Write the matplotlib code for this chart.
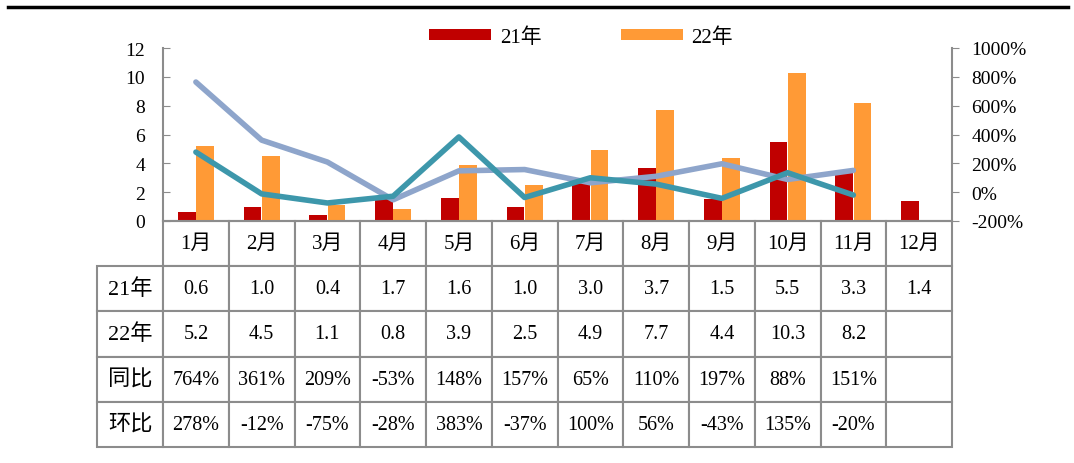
import matplotlib
matplotlib.use('Agg')
import matplotlib.pyplot as plt
from matplotlib.patches import Patch
from matplotlib.lines import Line2D
from matplotlib.ticker import FuncFormatter
import numpy as np

months = ['1月', '2月', '3月', '4月', '5月', '6月', '7月', '8月', '9月', '10月', '11月', '12月']
y21 = [0.6, 1.0, 0.4, 1.7, 1.6, 1.0, 3.0, 3.7, 1.5, 5.5, 3.3, 1.4]
y22 = [5.2, 4.5, 1.1, 0.8, 3.9, 2.5, 4.9, 7.7, 4.4, 10.3, 8.2]
yoy = [764, 361, 209, -53, 148, 157, 65, 110, 197, 88, 151]
mom = [278, -12, -75, -28, 383, -37, 100, 56, -43, 135, -20]
row_labels = ['21年', '22年', '同比', '环比']

plt.rcParams['font.family'] = ['Liberation Serif', 'Noto Sans CJK SC']

C21 = '#C00000'
C22 = '#FF9A36'
CYOY = '#8EA5CB'
CMOM = '#3D97AB'
GRAY = '#8C8C8C'

fig = plt.figure(figsize=(10.74, 4.64), dpi=100)
ax = fig.add_axes([163 / 1074, 1 - 222 / 464, 789 / 1074, 173 / 464])

x = np.arange(len(months))
ax.bar(x[:len(y21)] - 0.14, y21, 0.27, color=C21, zorder=2)
ax.bar(x[:len(y22)] + 0.14, y22, 0.27, color=C22, zorder=2)
ax.set_xlim(-0.5, len(months) - 0.5)
ax.set_ylim(0, 12)
ax.set_yticks(range(0, 13, 2))
ax.set_xticks([])
for s in ['top', 'right']:
    ax.spines[s].set_visible(False)
for s in ['left', 'bottom']:
    ax.spines[s].set_color(GRAY)
    ax.spines[s].set_linewidth(1.5)
ax.tick_params(axis='y', direction='in', length=5, color=GRAY, labelsize=14, pad=13)

ax2 = ax.twinx()
ax2.plot(x[:len(yoy)], yoy, color=CYOY, lw=4, solid_capstyle='round', solid_joinstyle='round')
ax2.plot(x[:len(mom)], mom, color=CMOM, lw=4, solid_capstyle='round', solid_joinstyle='round')
ax2.set_ylim(-200, 1000)
ax2.set_yticks(range(-200, 1001, 200))
ax2.yaxis.set_major_formatter(FuncFormatter(lambda v, p: f'{int(v)}%'))
for s in ['top', 'left', 'bottom']:
    ax2.spines[s].set_visible(False)
ax2.spines['right'].set_color(GRAY)
ax2.spines['right'].set_linewidth(1.5)
ax2.tick_params(axis='y', direction='out', length=5, color=GRAY, labelsize=14, pad=9)

# data table (first column holds the row labels)
n = len(months)
r21 = [f'{v:.1f}' for v in y21] + [''] * (n - len(y21))
r22 = [f'{v:.1f}' for v in y22] + [''] * (n - len(y22))
ryoy = [f'{v}%' for v in yoy] + [''] * (n - len(yoy))
rmom = [f'{v}%' for v in mom] + [''] * (n - len(mom))
rows = [[lab] + vals for lab, vals in zip(row_labels, [r21, r22, ryoy, rmom])]
tab = ax.table(cellText=rows, colLabels=[''] + months, colWidths=[1 / (n + 1)] * (n + 1),
               cellLoc='center', colLoc='center',
               bbox=[-1 / n, -226 / 173, (n + 1) / n, 226 / 173])
tab.auto_set_font_size(False)
tab.set_fontsize(14.5)
for (r, c), cell in tab.get_celld().items():
    cell.set_edgecolor(GRAY)
    cell.set_linewidth(1.5)
    if r == 0 or c == 0:
        cell.get_text().set_fontsize(16 if c == 0 else 15)
tab[0, 0].set_visible(False)

# legend
handles = [Patch(facecolor=C21, label='21年'), Patch(facecolor=C22, label='22年')]
fig.legend(handles=handles, loc='center', bbox_to_anchor=(0.541, 0.918), ncol=2, frameon=False,
           handlelength=3.0, handleheight=0.5, columnspacing=3.8, handletextpad=0.4,
           prop={'size': 15})

# top rule
fig.add_artist(Line2D([8 / 1074, 1068 / 1074], [1 - 8 / 464, 1 - 8 / 464], color='black', lw=2.5,
                      transform=fig.transFigure))

fig.savefig('out.png', dpi=100)
